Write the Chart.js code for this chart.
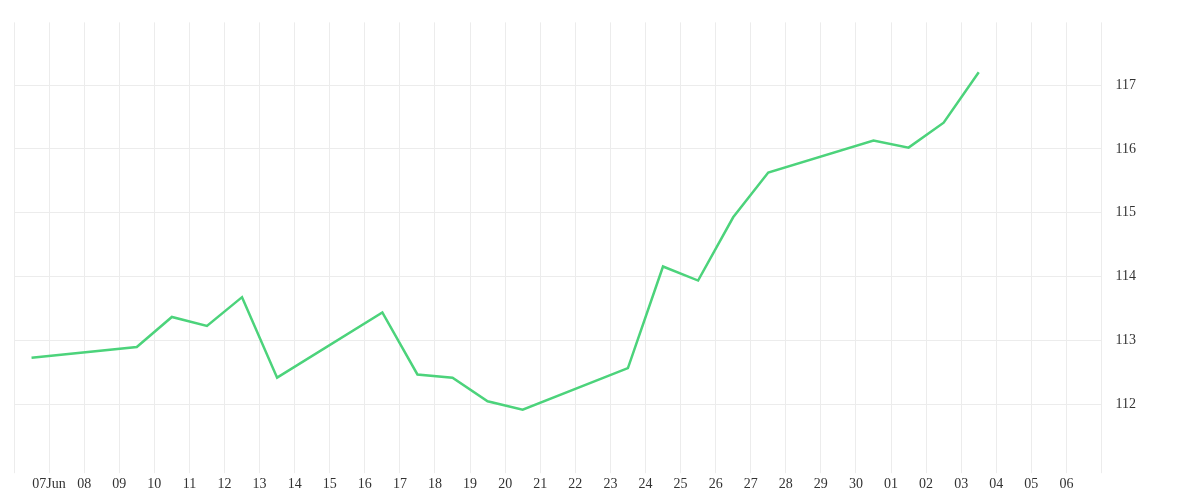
<!DOCTYPE html>
<html><head><meta charset="utf-8">
<script src="https://cdn.jsdelivr.net/npm/chart.js@4"></script>
<style>html,body{margin:0;background:#fff}#w{width:1200px;height:500px}</style>
</head><body><div id="w"><canvas id="c"></canvas></div>
<script>
// x = day index (0 = 06 Jun); points at midday
const dayIdx = [0.5,3.5,4.5,5.5,6.5,7.5,10.5,11.5,12.5,13.5,14.5,17.5,18.5,19.5,20.5,21.5,24.5,25.5,26.5,27.5];
const values = [112.73,112.90,113.37,113.23,113.68,112.42,113.44,112.47,112.42,112.05,111.92,112.57,114.16,113.94,114.93,115.63,116.13,116.02,116.41,117.20];
const tickLabels = ['','07Jun','08','09','10','11','12','13','14','15','16','17','18','19','20','21','22','23','24','25','26','27','28','29','30','01','02','03','04','05','06',''];
const yTicks = [112,113,114,115,116,117];
const pts = dayIdx.map((x,i)=>({x,y:values[i]}));
new Chart(document.getElementById('c'),{
  type:'line',
  data:{datasets:[{data:pts,borderColor:'#4cd37b',borderWidth:2.5,pointRadius:0,tension:0}]},
  options:{
    responsive:true,maintainAspectRatio:false,animation:false,
    layout:{padding:{left:14,right:50,top:12,bottom:4}},
    plugins:{legend:{display:false},tooltip:{enabled:false}},
    scales:{
      x:{type:'linear',min:0,max:31,
        afterBuildTicks:s=>{s.ticks=tickLabels.map((_,i)=>({value:i}));},
        grid:{color:'#ececec',tickLength:8},border:{display:false},
        ticks:{autoSkip:false,maxRotation:0,color:'#333',font:{family:'Liberation Serif',size:14},callback:v=>tickLabels[v]}},
      y:{position:'right',min:111.05,max:117.98,
        afterBuildTicks:s=>{s.ticks=yTicks.map(v=>({value:v}));},
        grid:{color:'#ececec',drawTicks:false},border:{display:false},
        ticks:{padding:14,color:'#333',font:{family:'Liberation Serif',size:14}}}
    }
  }
});
</script></body></html>
